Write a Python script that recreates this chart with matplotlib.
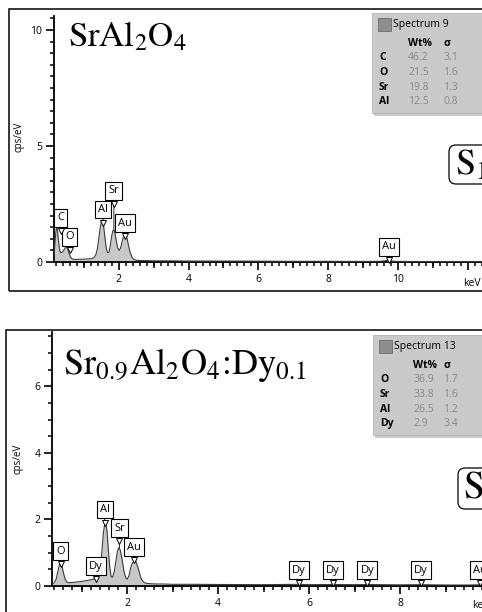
import numpy as np
import matplotlib.pyplot as plt
from matplotlib.patches import Rectangle, FancyBboxPatch
from matplotlib.ticker import MultipleLocator, FixedLocator, NullFormatter, FuncFormatter
from matplotlib.transforms import Affine2D, offset_copy

W, H = 482, 612

# EDS spectrum, SrAl2O4 (keV, cps/eV)
energy_1 = [0.15, 0.19, 0.21, 0.23, 0.25, 0.28, 0.31, 0.34, 0.38, 0.42, 0.46, 0.50,
            0.54, 0.58, 0.62, 0.67, 0.72, 0.80, 0.90, 1.00, 1.10, 1.20, 1.28, 1.34,
            1.39, 1.43, 1.47, 1.50, 1.53, 1.56, 1.60, 1.64, 1.68, 1.72, 1.76, 1.80,
            1.83, 1.86, 1.89, 1.93, 1.97, 2.01, 2.05, 2.09, 2.13, 2.17, 2.20, 2.24,
            2.28, 2.33, 2.38, 2.44, 2.52, 2.65, 2.80, 3.00, 3.50, 4.00, 5.00, 6.00,
            7.00, 8.00, 9.00, 9.50, 9.62, 9.70, 9.78, 9.90, 10.5, 11.0, 11.5, 12.0, 12.5]
counts_1 = [0.35, 1.20, 1.45, 1.47, 1.25, 0.80, 0.48, 0.40, 0.42, 0.50, 0.60, 0.65,
            0.55, 0.35, 0.20, 0.13, 0.11, 0.11, 0.12, 0.12, 0.13, 0.14, 0.18, 0.30,
            0.60, 1.05, 1.50, 1.72, 1.76, 1.60, 1.10, 0.60, 0.40, 0.42, 0.75, 1.15,
            1.35, 1.38, 1.25, 0.90, 0.60, 0.50, 0.60, 0.85, 1.08, 1.16, 1.15, 1.00,
            0.70, 0.40, 0.20, 0.10, 0.07, 0.06, 0.06, 0.05, 0.05, 0.04, 0.04, 0.035,
            0.03, 0.03, 0.025, 0.03, 0.05, 0.08, 0.05, 0.03, 0.02, 0.02, 0.02, 0.02, 0.02]

# EDS spectrum, Sr0.9Al2O4:Dy0.1
energy_2 = [0.35, 0.40, 0.44, 0.48, 0.51, 0.54, 0.57, 0.60, 0.64, 0.68, 0.74, 0.82,
            0.90, 1.00, 1.10, 1.18, 1.25, 1.30, 1.34, 1.38, 1.42, 1.45, 1.48, 1.51,
            1.53, 1.56, 1.59, 1.62, 1.65, 1.68, 1.72, 1.76, 1.79, 1.82, 1.85, 1.89,
            1.93, 1.97, 2.00, 2.04, 2.08, 2.12, 2.16, 2.19, 2.23, 2.27, 2.31, 2.36,
            2.42, 2.50, 2.65, 2.80, 3.00, 3.50, 4.00, 5.00, 5.75, 6.00, 6.50, 7.00,
            7.25, 8.00, 8.45, 9.00, 9.50, 9.75, 10.0]
counts_2 = [0.06, 0.10, 0.20, 0.45, 0.63, 0.69, 0.60, 0.40, 0.20, 0.11, 0.10, 0.11,
            0.12, 0.14, 0.16, 0.18, 0.20, 0.24, 0.26, 0.32, 0.60, 1.10, 1.60, 1.88,
            1.90, 1.65, 1.05, 0.55, 0.28, 0.26, 0.45, 0.80, 1.05, 1.15, 1.08, 0.80,
            0.45, 0.25, 0.20, 0.30, 0.55, 0.70, 0.76, 0.74, 0.60, 0.40, 0.22, 0.12,
            0.08, 0.07, 0.06, 0.06, 0.05, 0.05, 0.045, 0.04, 0.05, 0.04, 0.045, 0.04,
            0.045, 0.035, 0.04, 0.03, 0.03, 0.035, 0.03]

# peak tags: label, energy, box centre, pointer tip (cps/eV)
tags_1 = ['C', 'O', 'Al', 'Sr', 'Au', 'Au']
tag_x_1 = [0.33, 0.59, 1.55, 1.86, 2.17, 9.74]
tag_box_1 = [1.90, 1.08, 2.25, 3.06, 1.68, 0.65]
tag_tip_1 = [1.40, 0.62, 1.76, 1.38, 1.16, 0.06]

tags_2 = ['O', 'Dy', 'Al', 'Sr', 'Au', 'Dy', 'Dy', 'Dy', 'Dy', 'Au']
tag_x_2 = [0.54, 1.31, 1.51, 1.83, 2.15, 5.77, 6.52, 7.28, 8.45, 9.75]
tag_box_2 = [1.05, 0.60, 2.30, 1.74, 1.17, 0.48, 0.48, 0.48, 0.48, 0.48]
tag_tip_2 = [0.69, 0.26, 1.90, 1.15, 0.76, 0.05, 0.05, 0.05, 0.05, 0.04]

# quantification tables
elements_1 = ['C', 'O', 'Sr', 'Al']
wt_1 = ['46.2', '21.5', '19.8', '12.5']
sigma_1 = ['3.1', '1.6', '1.3', '0.8']

elements_2 = ['O', 'Sr', 'Al', 'Dy']
wt_2 = ['36.9', '33.8', '26.5', '2.9']
sigma_2 = ['1.7', '1.6', '1.2', '3.4']

plt.rcParams['mathtext.fontset'] = 'stix'
SANS = ['Open Sans', 'DejaVu Sans']
SERIF = ['STIXGeneral', 'Liberation Serif', 'DejaVu Serif']

fig = plt.figure(figsize=(W / 100, H / 100), dpi=100)
# image-pixel coordinates, y going down
px = Affine2D().scale(1, -1).translate(0, H)


def axes_px(left, top, right, bottom):
    return fig.add_axes([left / W, 1 - bottom / H, (right - left) / W, (bottom - top) / H])


def add_tag(ax, label, x, y_box, y_tip):
    ax.annotate(label, xy=(x, y_tip), xytext=(x, y_box), ha='center', va='center',
                fontsize=8, family=SANS, zorder=6, annotation_clip=False,
                bbox=dict(boxstyle='square,pad=0.28', fc='white', ec='black', lw=0.8),
                arrowprops=dict(arrowstyle='-', color='black', lw=0.6,
                                shrinkA=0, shrinkB=0))
    notch = offset_copy(ax.transData, fig=fig, y=-9.6, units='points')
    ax.plot([x], [y_box], marker='v', ms=5, mfc='white', mec='black', mew=0.7,
            transform=notch, zorder=7, clip_on=False)


def draw_spectrum(ax, energy, counts, xlim, ylim, ymajor, xlab_max,
                  tags, tag_x, tag_box, tag_tip):
    ax.fill_between(energy, counts, 0, color='#c8c8c8', lw=0, zorder=2)
    ax.plot(energy, counts, color='#3c3c3c', lw=0.8, zorder=3)
    ax.set_xlim(*xlim)
    ax.set_ylim(*ylim)
    ax.patch.set_alpha(0)
    for side in ['top', 'right']:
        ax.spines[side].set_visible(False)
    for side in ['left', 'bottom']:
        ax.spines[side].set_linewidth(1.3)
    ax.xaxis.set_major_locator(MultipleLocator(2))
    ax.xaxis.set_minor_locator(MultipleLocator(0.2))
    ax.xaxis.set_major_formatter(
        FuncFormatter(lambda v, p: f'{v:.0f}' if 0 < v <= xlab_max else ''))
    ax.yaxis.set_major_locator(MultipleLocator(ymajor))
    ax.yaxis.set_minor_locator(MultipleLocator(0.5))
    ax.tick_params(which='major', direction='out', length=5.5, width=1.2,
                   labelsize=7.5, pad=3)
    ax.tick_params(which='minor', direction='out', length=3, width=1.1)
    for lab in ax.get_xticklabels() + ax.get_yticklabels():
        lab.set_family(SANS)
    # odd keV ticks are a bit longer than the 0.2 keV ones
    sec = ax.secondary_xaxis('bottom')
    sec.xaxis.set_major_locator(FixedLocator(np.arange(1, 14, 2)))
    sec.xaxis.set_major_formatter(NullFormatter())
    sec.tick_params(direction='out', length=4.2, width=1.1)
    sec.spines['bottom'].set_linewidth(1.3)
    ax.set_ylabel('cps/eV', fontsize=7, family=SANS)
    for t, x, yb, yt in zip(tags, tag_x, tag_box, tag_tip):
        add_tag(ax, t, x, yb, yt)


def draw_table(x0, y0, name, elements, wt, sigma, val_x, sig_x, hdr_sig_x):
    # shadow, panel, swatch
    fig.add_artist(Rectangle((x0 + 2, y0 + 3), 130, 100, transform=px,
                             fc='#8c8c8c', ec='none', alpha=0.45))
    fig.add_artist(Rectangle((x0, y0), 130, 100, transform=px,
                             fc='#cacaca', ec='#b4b4b4', lw=0.6))
    fig.add_artist(Rectangle((x0 + 6, y0 + 5), 13, 13, transform=px,
                             fc='#8e8e8e', ec='#6e6e6e', lw=0.6))
    fig.text(x0 + 21, y0 + 12, name, transform=px, fontsize=7.5, family=SANS,
             va='center', ha='left')
    fig.text(val_x, y0 + 30, 'Wt%', transform=px, fontsize=7.5, family=SANS,
             weight='bold', va='center', ha='left')
    fig.text(hdr_sig_x, y0 + 30, 'σ', transform=px, fontsize=7.5, family=SANS,
             weight='bold', va='center', ha='left')
    for i, (el, w, s) in enumerate(zip(elements, wt, sigma)):
        y = y0 + 45 + i * 14.5
        fig.text(x0 + 7, y, el, transform=px, fontsize=7.5, family=SANS,
                 weight='bold', va='center', ha='left')
        fig.text(val_x, y, w, transform=px, fontsize=7.5, family=SANS,
                 color='#8a8a8a', va='center', ha='left')
        fig.text(sig_x, y, s, transform=px, fontsize=7.5, family=SANS,
                 color='#8a8a8a', va='center', ha='left')


# outer frames around each panel
fig.add_artist(Rectangle((9, 291), 490, -282, transform=px, fill=False,
                         ec='black', lw=1.1))
fig.add_artist(Rectangle((6, 620), 490, -290, transform=px, fill=False,
                         ec='black', lw=1.1))

# top panel
ax1 = axes_px(54, 16, 482, 262)
draw_spectrum(ax1, energy_1, counts_1, (0.143, 12.41), (0, 10.6), 5, 10,
              tags_1, tag_x_1, tag_box_1, tag_tip_1)
ax1.yaxis.set_label_coords(-0.07, 0.51)
fig.text(472, 283, 'keV', transform=px, fontsize=7.5, family=SANS,
         ha='center', va='center')
fig.text(68, 46, r'$\mathrm{SrAl_2O_4}$', transform=px, fontsize=25,
         ha='left', va='baseline')
draw_table(372, 13, 'Spectrum 9', elements_1, wt_1, sigma_1, 408, 443, 444)
fig.add_artist(FancyBboxPatch((449, 145), 60, 39, transform=px,
                              boxstyle='round,pad=0,rounding_size=7',
                              fc='white', ec='black', lw=0.9))
fig.text(455, 175, r'$\mathrm{S_1}$', transform=px, fontsize=26,
         ha='left', va='baseline')

# bottom panel
ax2 = axes_px(52, 332, 482, 586)
draw_spectrum(ax2, energy_2, counts_2, (0.35, 9.8), (0, 7.63), 2, 8,
              tags_2, tag_x_2, tag_box_2, tag_tip_2)
ax2.yaxis.set_label_coords(-0.066, 0.50)
fig.text(481, 606, 'keV', transform=px, fontsize=7.5, family=SANS,
         ha='center', va='center')
fig.text(63, 374, r'$\mathrm{Sr_{0.9}Al_2O_4}$:$\mathrm{Dy_{0.1}}$', transform=px,
         fontsize=26, family=SERIF, ha='left', va='baseline')
draw_table(373, 335, 'Spectrum 13', elements_2, wt_2, sigma_2, 413, 443, 444)
fig.add_artist(FancyBboxPatch((458, 468), 60, 41, transform=px,
                              boxstyle='round,pad=0,rounding_size=7',
                              fc='white', ec='black', lw=0.9))
fig.text(463, 499, r'$\mathrm{S_2}$', transform=px, fontsize=27,
         ha='left', va='baseline')

fig.savefig('out.png', dpi=100)
